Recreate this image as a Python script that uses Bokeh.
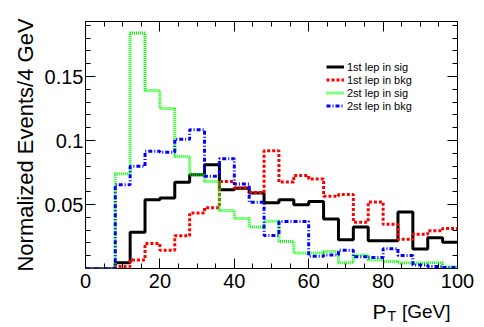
import numpy as np
from bokeh.plotting import figure
from bokeh.layouts import column
from bokeh.models import (FixedTicker, LinearAxis, Label, Legend, LegendItem,
                          Range1d, CustomJSTickFormatter)
from bokeh.embed import file_html
from bokeh.resources import INLINE

# ---- data (4 GeV bins from 0 to 100 GeV) ----
bin_low = [0, 4, 8, 12, 16, 20, 24, 28, 32, 36, 40, 44, 48,
           52, 56, 60, 64, 68, 72, 76, 80, 84, 88, 92, 96]
x_max = 100

lead_sig = [0, 0, 0.0045, 0.0283, 0.0537, 0.055, 0.0673, 0.0733, 0.081, 0.0615,
            0.0628, 0.0589, 0.0514, 0.0537, 0.0498, 0.0524, 0.0386, 0.0224, 0.0325,
            0.0216, 0.0216, 0.0442, 0.0153, 0.024, 0.0205]
lead_bkg = [0, 0, 0.0015, 0.0067, 0.0196, 0.0143, 0.0255, 0.0433, 0.0475, 0.068,
            0.063, 0.0594, 0.092, 0.0675, 0.0727, 0.07, 0.0565, 0.0578, 0.0362,
            0.052, 0.0345, 0.0229, 0.0268, 0.0294, 0.0312]
sub_sig = [0, 0, 0.074, 0.184, 0.139, 0.125, 0.0876, 0.0733, 0.068, 0.0453,
           0.039, 0.0325, 0.037, 0.0211, 0.0122, 0.0122, 0.0132, 0.0045, 0.0106,
           0.0067, 0.0054, 0.0042, 0.0042, 0.0045, 0.0012]
sub_bkg = [0, 0, 0.0655, 0.0798, 0.0916, 0.0908, 0.101, 0.1085, 0.072, 0.0858,
           0.066, 0.0518, 0.0258, 0.0367, 0.0367, 0.0095, 0.0105, 0.0142, 0.0092,
           0.0085, 0.0155, 0.0102, 0.0028, 0.0015, 0.0007]

series_labels = ["1st lep in sig", "1st lep in bkg", "2st lep in sig", "2st lep in bkg"]
x_ticks = [0, 20, 40, 60, 80, 100]
y_ticks = [0.05, 0.1, 0.15]
x_title = ["P", "T", "[GeV]"]
y_title = "Normalized Events/4 GeV"

FONT = "Liberation Sans"
W = 474
H_MAIN = 297
H_TITLE = 25

p = figure(width=W, height=H_MAIN, output_backend="svg", toolbar_location=None,
           x_range=Range1d(0, x_max), y_range=Range1d(0, 0.193),
           min_border_left=85, min_border_right=17, min_border_top=21,
           min_border_bottom=29)
p.grid.visible = False
p.outline_line_color = "black"
p.outline_line_width = 1
p.background_fill_color = "white"
p.border_fill_color = "white"

styles = [
    dict(line_color="#000000", line_width=3, line_dash="solid"),
    dict(line_color="#ff0000", line_width=3, line_dash="3 2"),
    dict(line_color="#00ff00", line_width=3, line_dash="1 1"),
    dict(line_color="#0000ff", line_width=3, line_dash="4 2 1 2"),
]
renderers = []
for vals, st in zip([lead_sig, lead_bkg, sub_sig, sub_bkg], styles):
    xs = bin_low + [x_max]
    ys = list(vals) + [vals[-1]]
    r = p.step(x=xs, y=ys, mode="after", **st)
    renderers.append(r)

x_minor = list(range(0, x_max + 1, 5))
y_minor = [i / 100 for i in range(1, 20)]

def style_axis(ax, ticks, minor, labels=True):
    ax.ticker = FixedTicker(ticks=ticks, minor_ticks=minor)
    ax.axis_line_color = None
    ax.major_tick_line_color = "black"
    ax.minor_tick_line_color = "black"
    ax.major_tick_in = 10
    ax.major_tick_out = 0
    ax.minor_tick_in = 5
    ax.minor_tick_out = 0
    ax.major_label_text_font = FONT
    if labels:
        ax.major_label_text_color = "black"
        ax.major_label_text_font_size = "20px"
        ax.formatter = CustomJSTickFormatter(code="return tick.toString()")
    else:
        ax.major_label_text_color = None
        ax.major_label_text_font_size = "1px"
        ax.major_label_standoff = 0

style_axis(p.xaxis[0], x_ticks, x_minor)
p.xaxis[0].major_label_standoff = 5
style_axis(p.yaxis[0], y_ticks, y_minor)
p.yaxis[0].major_label_standoff = 2

p.yaxis[0].axis_label = y_title
p.yaxis[0].axis_label_text_font = FONT
p.yaxis[0].axis_label_text_font_size = "22px"
p.yaxis[0].axis_label_text_font_style = "normal"
p.yaxis[0].axis_label_text_color = "black"
p.yaxis[0].axis_label_standoff = 4

top = LinearAxis()
style_axis(top, x_ticks, x_minor, labels=False)
p.add_layout(top, "above")
right = LinearAxis()
style_axis(right, y_ticks, y_minor, labels=False)
p.add_layout(right, "right")

legend = Legend(items=[LegendItem(label=l, renderers=[r]) for l, r in zip(series_labels, renderers)],
                location=(241, 156), padding=0, margin=0, spacing=0,
                glyph_width=18, glyph_height=13, label_height=13, label_standoff=3,
                label_text_font=FONT, label_text_font_size="11px",
                label_text_color="black",
                border_line_color=None, background_fill_alpha=0)
p.add_layout(legend)

# strip under the plot carrying the x-axis title (ROOT style: right aligned, P with subscript T)
t = figure(width=W, height=H_TITLE, output_backend="svg", toolbar_location=None,
           x_range=Range1d(0, 1), y_range=Range1d(0, 1),
           x_axis_location=None, y_axis_location=None,
           min_border_left=0, min_border_right=0, min_border_top=0, min_border_bottom=0)
t.grid.visible = False
t.outline_line_color = None
t.background_fill_color = "white"
t.border_fill_color = "white"
t.add_layout(Label(x=287, y=11, x_units="screen", y_units="screen", text=x_title[0],
                   text_align="left", text_baseline="alphabetic",
                   text_font=FONT, text_font_size="21px", text_color="black"))
t.add_layout(Label(x=302, y=7, x_units="screen", y_units="screen", text=x_title[1],
                   text_align="left", text_baseline="alphabetic",
                   text_font=FONT, text_font_size="14px", text_color="black"))
t.add_layout(Label(x=365, y=11, x_units="screen", y_units="screen", text=x_title[2],
                   text_align="right", text_baseline="alphabetic",
                   text_font=FONT, text_font_size="19px", text_color="black"))

layout = column(p, t, spacing=0)
open("out.html", "w").write(file_html(layout, INLINE))
